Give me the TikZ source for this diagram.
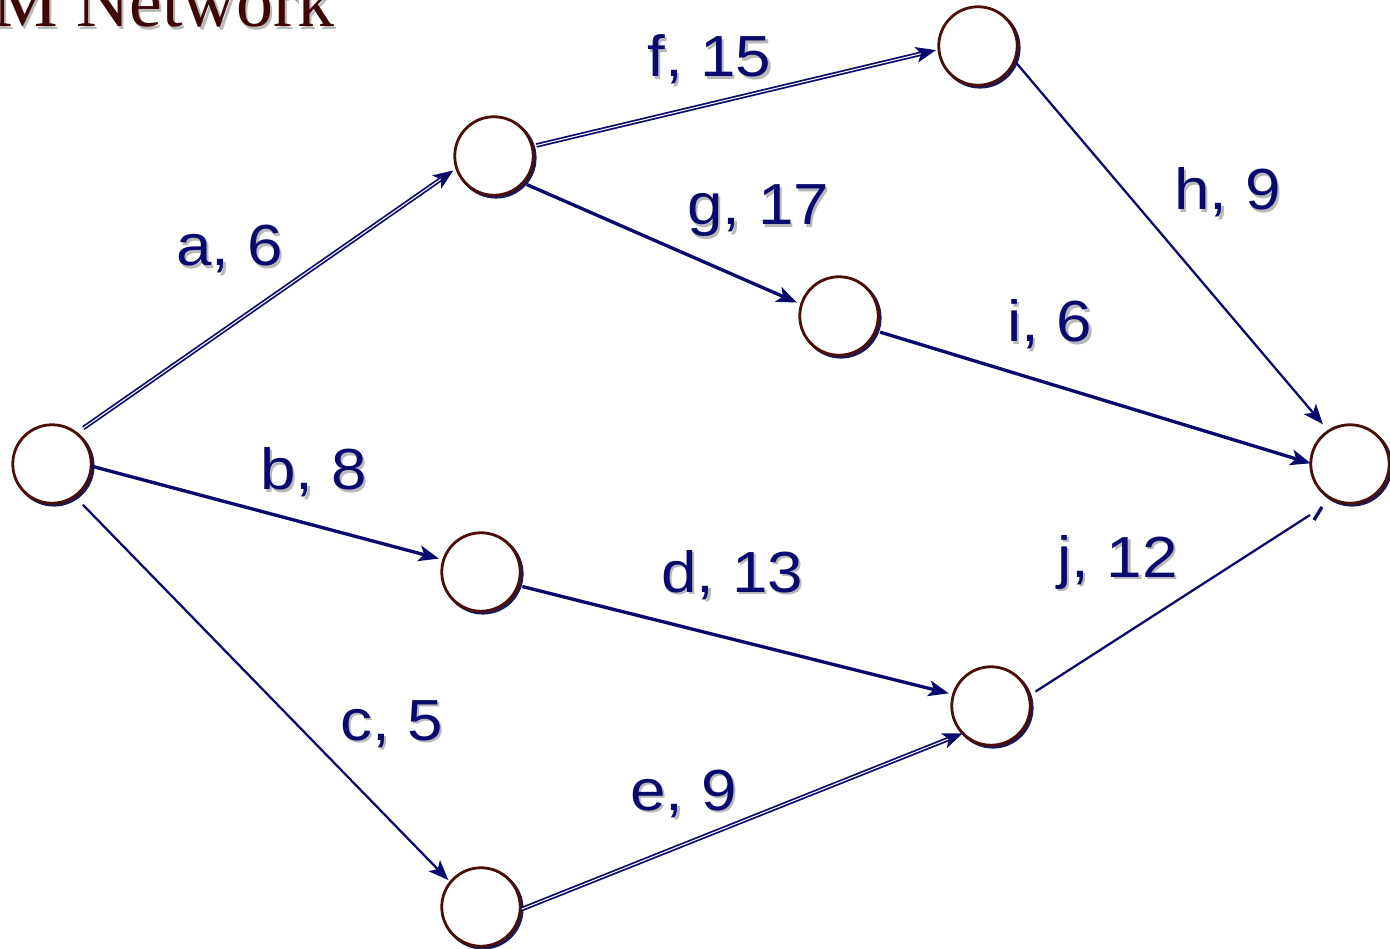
\documentclass[tikz,border=0pt]{standalone}
\usepackage{fontspec}
\setmainfont{Liberation Sans}
\newfontfamily\titlefont{Liberation Serif}
\newfontfamily\lblfont[FakeStretch=1.1]{Liberation Sans}
\usetikzlibrary{arrows.meta,shadows}
\definecolor{navy}{RGB}{10,10,110}
\definecolor{ring}{RGB}{75,15,10}
\definecolor{titlered}{RGB}{62,6,6}
\definecolor{shgray}{RGB}{185,185,185}
\definecolor{ringshadow}{RGB}{25,25,85}
\newcommand\shtxt[1]{\makebox[0pt][l]{\hspace{1.3pt}\raisebox{-1.3pt}{\color{shgray}#1}}#1}
\begin{document}
\begin{tikzpicture}[x=0.02cm,y=-0.02cm,
  >={Stealth[length=11.5pt,width=9pt,inset=2.8pt]},
  ev/.style={circle,draw=ring,line width=1.6pt,fill=white,minimum size=1.57cm,inner sep=0pt,outer sep=0pt,
    copy shadow={shadow xshift=1.1pt,shadow yshift=-1.1pt,draw=ringshadow,fill=ringshadow}},
  act/.style={draw=navy,line width=1.9pt,->},
  thinact/.style={draw=navy,line width=1.3pt,->},
  dbl/.style={draw=navy,line width=1pt,double=white,double distance=0.6pt,->},
  lbl/.style={anchor=base west,inner sep=0pt,text=navy,font=\lblfont\fontsize{33}{40}\selectfont},
]
\useasboundingbox (0,0) rectangle (1390,949);
\clip (0,0) rectangle (1390,949);

\node[anchor=base west,inner sep=0pt,text=titlered,font=\titlefont\fontsize{42}{50}\selectfont] (title) at (-8,27) {\shtxt{M Network}};

\node[ev] (n1) at (52,464) {};
\node[ev] (n2) at (494,156) {};
\node[ev] (n3) at (978,46) {};
\node[ev] (n4) at (839,316) {};
\node[ev] (n5) at (1350,464) {};
\node[ev] (n6) at (481,572) {};
\node[ev] (n7) at (991,706) {};
\node[ev] (n8) at (481,907) {};

\coordinate (jend) at (1310,515);
\coordinate (tickA) at (1314,520);
\coordinate (tickB) at (1322,507);

\draw[dbl,shorten <=5pt,shorten >=2.3pt] (n1.52) -- (n2.198);
\draw[act,shorten >=2.8pt] (n1.357) -- (n6.162);
\draw[thinact,shorten <=6.8pt,shorten >=1.7pt] (n1.305) -- (n8.141);
\draw[act,shorten <=2.6pt,shorten >=2.8pt] (n6.340) -- (n7.163);
\draw[dbl,shorten <=1pt] (n8.356) -- (n7.224);
\draw[dbl,shorten <=2.5pt,shorten >=1.7pt] (n2.14) -- (n3.185);
\draw[act,shorten <=2.5pt,shorten >=2.8pt] (n2.317) -- (n4.163);
\draw[thinact,shorten <=1.7pt,shorten >=5pt] (n3.338) -- (n5.123);
\draw[act,shorten <=2.8pt] (n4.338) -- (n5.179);
\draw[navy,line width=1.3pt,shorten <=4.5pt] (n7.15) -- (jend);
\draw[navy,line width=1.9pt] (tickA) -- (tickB);

\node[lbl] (la) at (176,266) {\shtxt{a, 6}};
\node[lbl] (lb) at (260,490) {\shtxt{b, 8}};
\node[lbl] (lc) at (340,740) {\shtxt{c, 5}};
\node[lbl] (ld) at (661,592) {\shtxt{d, 13}};
\node[lbl] (le) at (630,810) {\shtxt{e, 9}};
\node[lbl] (lf) at (647,77) {\shtxt{f, 15}};
\node[lbl] (lg) at (687,225) {\shtxt{g, 17}};
\node[lbl] (lh) at (1174,210) {\shtxt{h, 9}};
\node[lbl] (li) at (1007,342) {\shtxt{i, 6}};
\node[lbl] (lj) at (1057,577) {\shtxt{j, 12}};
\end{tikzpicture}
\end{document}
